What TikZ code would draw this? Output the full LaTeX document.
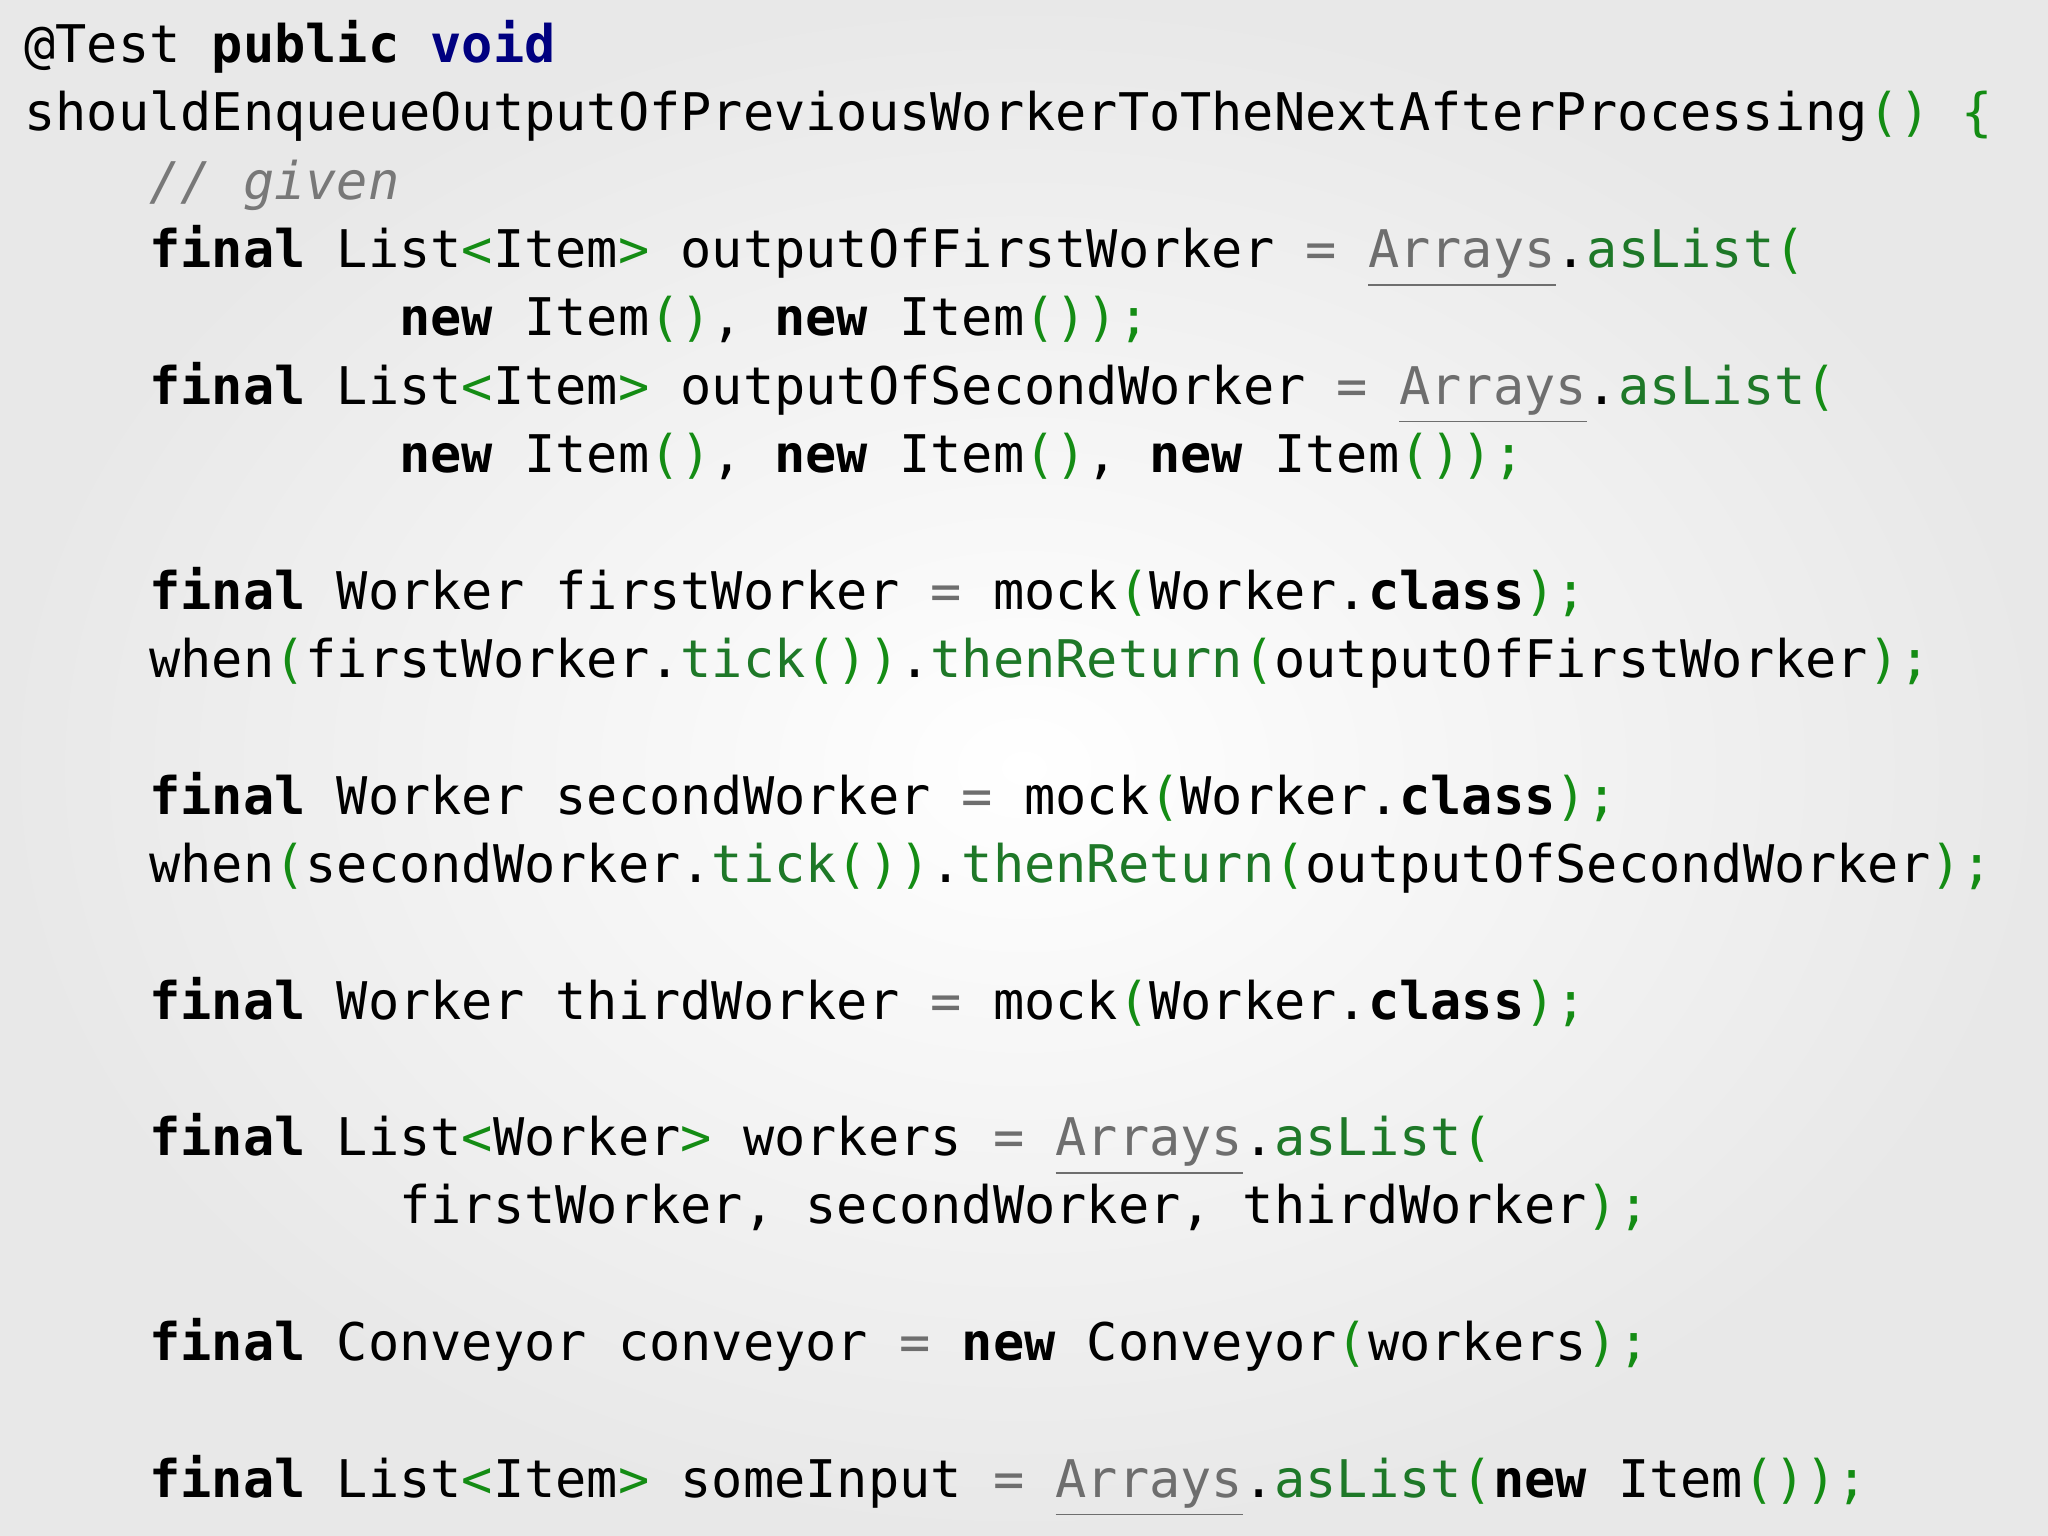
\documentclass[tikz,border=0pt]{standalone}
\usepackage{fontspec}
\setmonofont{DejaVu Sans Mono}
\definecolor{pg}{RGB}{20,140,20}
\definecolor{mg}{RGB}{30,120,40}
\definecolor{cg}{RGB}{120,120,120}
\definecolor{eg}{RGB}{110,110,110}
\newcommand{\kw}[1]{\textbf{#1}}
\newcommand{\gp}[1]{\textcolor{pg}{#1}}
\newcommand{\mt}[1]{\textcolor{mg}{#1}}
\newcommand{\ul}[1]{\textcolor{eg}{\underline{#1}}}
\newcommand{\eq}{\textcolor{eg}{=}}
\newcommand{\ind}[1]{\hspace*{#1\dimexpr 0.602em\relax}}
\begin{document}
\begin{tikzpicture}[x=0.01cm,y=-0.01cm,
  ln/.style={anchor=base west,inner sep=0pt,font=\ttfamily\fontsize{11.3pt}{14pt}\selectfont}]
\shade[inner color=white,outer color=black!9] (0,0) rectangle (1568,1176);
\useasboundingbox (0,0) rectangle (1568,1176);
\newcommand{\Ln}[3]{\node[ln] (#1) at (18,{48+52.3*#2}) {#3};}
\Ln{l0}{0}{@Test \kw{public} \textcolor{blue!50!black}{\kw{void}}}
\Ln{l1}{1}{shouldEnqueueOutputOfPreviousWorkerToTheNextAfterProcessing\gp{()} \gp{\{}}
\Ln{l2}{2}{\ind{4}\textcolor{cg}{\itshape // given}}
\Ln{l3}{3}{\ind{4}\kw{final} List\gp{<}Item\gp{>} outputOfFirstWorker \eq{} \ul{Arrays}.\mt{asList}\gp{(}}
\Ln{l4}{4}{\ind{12}\kw{new} Item\gp{()}, \kw{new} Item\gp{());}}
\Ln{l5}{5}{\ind{4}\kw{final} List\gp{<}Item\gp{>} outputOfSecondWorker \eq{} \ul{Arrays}.\mt{asList}\gp{(}}
\Ln{l6}{6}{\ind{12}\kw{new} Item\gp{()}, \kw{new} Item\gp{()}, \kw{new} Item\gp{());}}
\Ln{l8}{8}{\ind{4}\kw{final} Worker firstWorker \eq{} mock\gp{(}Worker.\kw{class}\gp{);}}
\Ln{l9}{9}{\ind{4}when\gp{(}firstWorker.\mt{tick}\gp{())}.\mt{thenReturn}\gp{(}outputOfFirstWorker\gp{);}}
\Ln{l11}{11}{\ind{4}\kw{final} Worker secondWorker \eq{} mock\gp{(}Worker.\kw{class}\gp{);}}
\Ln{l12}{12}{\ind{4}when\gp{(}secondWorker.\mt{tick}\gp{())}.\mt{thenReturn}\gp{(}outputOfSecondWorker\gp{);}}
\Ln{l14}{14}{\ind{4}\kw{final} Worker thirdWorker \eq{} mock\gp{(}Worker.\kw{class}\gp{);}}
\Ln{l16}{16}{\ind{4}\kw{final} List\gp{<}Worker\gp{>} workers \eq{} \ul{Arrays}.\mt{asList}\gp{(}}
\Ln{l17}{17}{\ind{12}firstWorker, secondWorker, thirdWorker\gp{);}}
\Ln{l19}{19}{\ind{4}\kw{final} Conveyor conveyor \eq{} \kw{new} Conveyor\gp{(}workers\gp{);}}
\Ln{l21}{21}{\ind{4}\kw{final} List\gp{<}Item\gp{>} someInput \eq{} \ul{Arrays}.\mt{asList}\gp{(}\kw{new} Item\gp{());}}
\end{tikzpicture}
\end{document}
